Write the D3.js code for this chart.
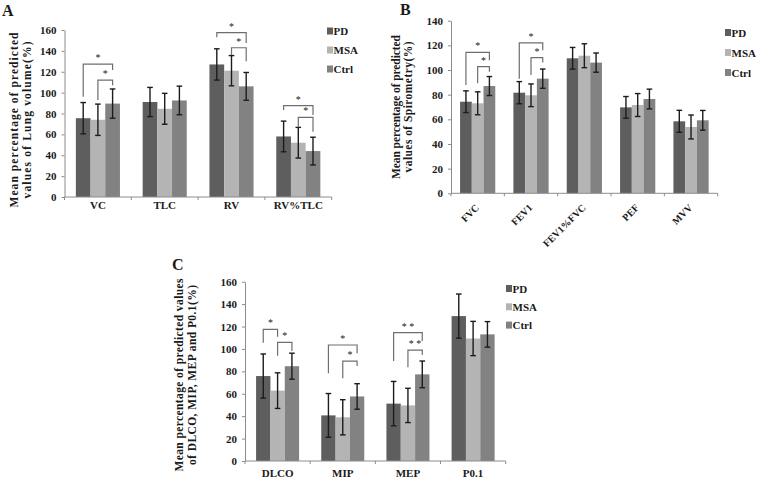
<!DOCTYPE html>
<html>
<head>
<meta charset="utf-8">
<script src="https://cdn.jsdelivr.net/npm/d3@7"></script>
<style>
  html, body { margin: 0; padding: 0; background: #fff; }
  svg { display: block; }
  text { font-family: "Liberation Serif", "Times New Roman", serif; font-weight: bold; fill: #1a1a1a; }
</style>
</head>
<body>
<svg id="chart" width="760" height="481"></svg>
<script>
// ---------- data ----------
const groups = ["PD", "MSA", "Ctrl"];
const groupColors = ["#5e5e5e", "#b4b4b4", "#828282"];

// Panel A: lung volume
const catsA = ["VC", "TLC", "RV", "RV%TLC"];
const pdA = [75.5, 91, 127, 58];
const msaA = [74, 84.5, 121, 52];
const ctrlA = [89.5, 92.5, 106, 44];
const pdErrA = [15, 14, 15, 14.7];
const msaErrA = [15, 14.8, 14.5, 14.7];
const ctrlErrA = [14, 13.7, 13.3, 13.3];
const ticksA = [0, 20, 40, 60, 80, 100, 120, 140, 160];
const sigA = [
  { cat: "VC", from: "PD", to: "Ctrl", level: 127.4, leftEnd: 96, rightEnd: 121.6, label: "*" },
  { cat: "VC", from: "MSA", to: "Ctrl", level: 112, leftEnd: 93, rightEnd: 107, label: "*" },
  { cat: "RV", from: "PD", to: "Ctrl", level: 157.4, leftEnd: 153, rightEnd: 147.5, label: "*" },
  { cat: "RV", from: "MSA", to: "Ctrl", level: 143, leftEnd: 136, rightEnd: 130, label: "*" },
  { cat: "RV%TLC", from: "PD", to: "Ctrl", level: 87.5, leftEnd: 83.3, rightEnd: 78.5, label: "*" },
  { cat: "RV%TLC", from: "MSA", to: "Ctrl", level: 76.3, leftEnd: 67.3, rightEnd: 62.5, label: "*" }
];

// Panel B: spirometry
const catsB = ["FVC", "FEV1", "FEV1%FVC", "PEF", "MVV"];
const pdB = [74.3, 81.6, 109.5, 69.7, 58.4];
const msaB = [73, 79.5, 111.6, 71.6, 53.8];
const ctrlB = [87, 93, 106, 76.5, 59.2];
const pdErrB = [8.8, 9, 8.8, 8.8, 8.9];
const msaErrB = [9.3, 9.2, 9.7, 9.3, 9.7];
const ctrlErrB = [7.7, 7.8, 7.8, 8, 8];
const ticksB = [0, 20, 40, 60, 80, 100, 120, 140];
const sigB = [
  { cat: "FVC", from: "PD", to: "Ctrl", level: 114.3, leftEnd: 87.8, rightEnd: 108, label: "*" },
  { cat: "FVC", from: "MSA", to: "Ctrl", level: 102.7, leftEnd: 89.2, rightEnd: 98.6, label: "*" },
  { cat: "FEV1", from: "PD", to: "Ctrl", level: 122, leftEnd: 93, rightEnd: 116, label: "*" },
  { cat: "FEV1", from: "MSA", to: "Ctrl", level: 110, leftEnd: 96, rightEnd: 106, label: "*" }
];

// Panel C: DLCO, MIP, MEP, P0.1
const catsC = ["DLCO", "MIP", "MEP", "P0.1"];
const pdC = [75.8, 40.7, 51.2, 129.3];
const msaC = [62.8, 39, 49.6, 109.3];
const ctrlC = [84.6, 57.6, 77.3, 113];
const pdErrC = [19.7, 19.5, 19.8, 19.7];
const msaErrC = [15.9, 15.7, 15.3, 15.3];
const ctrlErrC = [11.6, 11.4, 11.9, 11.4];
const ticksC = [0, 20, 40, 60, 80, 100, 120, 140, 160];
const sigC = [
  { cat: "DLCO", from: "PD", to: "MSA", level: 117.5, leftEnd: 105.6, rightEnd: 110.9, label: "*" },
  { cat: "DLCO", from: "MSA", to: "Ctrl", level: 105.9, leftEnd: 94, rightEnd: 98.2, label: "*" },
  { cat: "MIP", from: "PD", to: "Ctrl", level: 103.5, leftEnd: 78.3, rightEnd: 96.1, label: "*" },
  { cat: "MIP", from: "MSA", to: "Ctrl", level: 89.2, leftEnd: 73.8, rightEnd: 84.8, label: "*" },
  { cat: "MEP", from: "PD", to: "Ctrl", level: 114.5, leftEnd: 89.2, rightEnd: 107, label: "* *" },
  { cat: "MEP", from: "MSA", to: "Ctrl", level: 99, leftEnd: 83.6, rightEnd: 94.6, label: "* *" }
];

// ---------- drawing ----------
const svg = d3.select("#chart");

function drawPanel(p) {
  const g = svg.append("g");
  const x = d3.scaleBand().domain(p.cats).range([p.x0, p.x1]);
  const bw = x.bandwidth();
  const xg = d3.scaleBand().domain(groups).range([bw * 0.17, bw * 0.83]);
  const y = d3.scaleLinear().domain([0, p.ymax]).range([p.y0, p.ytop]);
  const color = d3.scaleOrdinal().domain(groups).range(groupColors);

  const rows = [];
  p.cats.forEach((c, i) => {
    groups.forEach((grp, j) => {
      rows.push({ cat: c, grp, v: p.vals[j][i], e: p.errs[j][i] });
    });
  });

  // bars
  g.selectAll("rect.bar").data(rows).join("rect")
    .attr("class", "bar")
    .attr("x", d => x(d.cat) + xg(d.grp))
    .attr("width", xg.bandwidth())
    .attr("y", d => y(d.v))
    .attr("height", d => y(0) - y(d.v))
    .attr("fill", d => color(d.grp));

  // error bars
  const eb = g.selectAll("g.err").data(rows).join("g").attr("class", "err")
    .attr("stroke", "#1c1c1c").attr("stroke-width", 1.4);
  const cx = d => x(d.cat) + xg(d.grp) + xg.bandwidth() / 2;
  eb.append("line").attr("x1", cx).attr("x2", cx)
    .attr("y1", d => y(d.v + d.e)).attr("y2", d => y(d.v - d.e));
  eb.append("line").attr("x1", d => cx(d) - 2.8).attr("x2", d => cx(d) + 2.8)
    .attr("y1", d => y(d.v + d.e)).attr("y2", d => y(d.v + d.e));
  eb.append("line").attr("x1", d => cx(d) - 2.8).attr("x2", d => cx(d) + 2.8)
    .attr("y1", d => y(d.v - d.e)).attr("y2", d => y(d.v - d.e));

  // y axis
  const ya = g.append("g").attr("transform", `translate(${p.x0},0)`)
    .call(d3.axisLeft(y).tickValues(p.ticks).tickSize(3).tickSizeOuter(0).tickPadding(5));
  ya.selectAll("path, line").attr("stroke", "#8c8c8c");
  ya.selectAll("text").style("font-size", "11px").style("font-family", "Liberation Serif")
    .style("font-weight", "bold").attr("fill", "#1a1a1a");

  // x axis: line, ticks at category boundaries
  g.append("line").attr("x1", p.x0).attr("x2", p.x1).attr("y1", y(0)).attr("y2", y(0))
    .attr("stroke", "#8c8c8c");
  const bounds = p.cats.map(c => x(c)).concat([x(p.cats[p.cats.length - 1]) + bw]);
  g.selectAll("line.xt").data(bounds).join("line").attr("class", "xt")
    .attr("x1", d => d).attr("x2", d => d).attr("y1", y(0)).attr("y2", y(0) + 3)
    .attr("stroke", "#8c8c8c");

  // category labels
  if (p.rotate) {
    g.selectAll("text.cat").data(p.cats).join("text").attr("class", "cat")
      .attr("transform", c => `translate(${x(c) + bw / 2 + 2},${y(0) + 15}) rotate(-45)`)
      .attr("text-anchor", "end").style("font-size", "10px").text(c => c);
  } else {
    g.selectAll("text.cat").data(p.cats).join("text").attr("class", "cat")
      .attr("x", c => x(c) + bw / 2).attr("y", y(0) + p.catDy)
      .attr("text-anchor", "middle").style("font-size", "11px").text(c => c);
  }

  // significance brackets
  const gx = (cat, grp) => x(cat) + xg(grp) + xg.bandwidth() / 2;
  const sg = g.selectAll("g.sig").data(p.sig).join("g").attr("class", "sig");
  sg.append("path")
    .attr("d", s => {
      const xa = gx(s.cat, s.from), xb = gx(s.cat, s.to);
      return `M${xa},${y(s.leftEnd)}V${y(s.level)}H${xb}V${y(s.rightEnd)}`;
    })
    .attr("fill", "none").attr("stroke", "#6e6e6e").attr("stroke-width", 1.2);
  sg.append("text")
    .attr("x", s => (gx(s.cat, s.from) + gx(s.cat, s.to)) / 2)
    .attr("y", s => y(s.level) - 3)
    .attr("text-anchor", "middle").style("font-size", "10px").style("font-weight", "normal")
    .attr("fill", "#555").text(s => s.label);

  // legend
  const lg = g.selectAll("g.leg").data(groups).join("g").attr("class", "leg")
    .attr("transform", (d, i) => `translate(${p.legX},${p.legY + i * p.legDy})`);
  lg.append("rect").attr("x", 0).attr("y", -3.5).attr("width", 6).attr("height", 7)
    .attr("fill", d => color(d));
  lg.append("text").attr("x", 6.5).attr("y", 4).style("font-size", "11px").text(d => d);

  // panel letter
  g.append("text").attr("x", p.letterX).attr("y", p.letterY).style("font-size", "16px").text(p.letter);

  // y title
  p.title.forEach((t, i) => {
    g.append("text")
      .attr("transform", `translate(${p.titleX[i]},${p.titleY}) rotate(-90)`)
      .attr("text-anchor", "middle").style("font-size", "11.5px")
      .attr("textLength", p.titleLen[i]).attr("lengthAdjust", "spacing")
      .text(t);
  });
}

drawPanel({
  cats: catsA, vals: [pdA, msaA, ctrlA], errs: [pdErrA, msaErrA, ctrlErrA], ticks: ticksA, sig: sigA,
  ymax: 160, x0: 64.5, x1: 331.7, y0: 197, ytop: 30, catDy: 12,
  legX: 327, legY: 31, legDy: 19, letter: "A", letterX: 2, letterY: 16,
  title: ["Mean percentage of  predicted", "values of Lung volume(%)"],
  titleX: [18, 31], titleY: 120, titleLen: [175, 157]
});

drawPanel({
  cats: catsB, vals: [pdB, msaB, ctrlB], errs: [pdErrB, msaErrB, ctrlErrB], ticks: ticksB, sig: sigB,
  ymax: 140, x0: 451, x1: 717.7, y0: 193.3, ytop: 20.7, rotate: true,
  legX: 725, legY: 32.5, legDy: 20, letter: "B", letterX: 400, letterY: 15,
  title: ["Mean percentage of predicted", "values of Spirometry(%)"],
  titleX: [400, 412], titleY: 107, titleLen: [144, 131]
});

drawPanel({
  cats: catsC, vals: [pdC, msaC, ctrlC], errs: [pdErrC, msaErrC, ctrlErrC], ticks: ticksC, sig: sigC,
  ymax: 160, x0: 245, x1: 505.7, y0: 461, ytop: 281.7, catDy: 16,
  legX: 506, legY: 288.5, legDy: 18.3, letter: "C", letterX: 172, letterY: 270,
  title: ["Mean percentage of predicted values", "of DLCO, MIP, MEP and P0.1(%)"],
  titleX: [183, 196], titleY: 375, titleLen: [193, 180]
});
</script>
</body>
</html>
